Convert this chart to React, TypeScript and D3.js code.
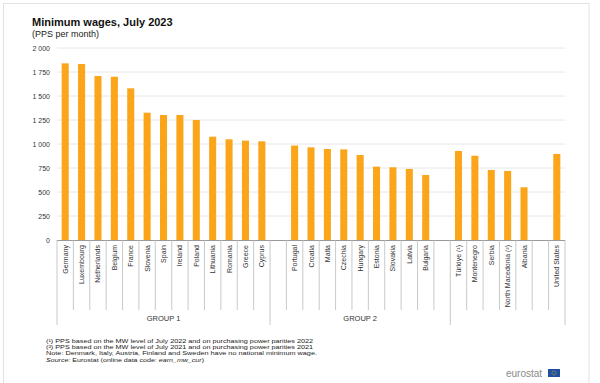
import React from "react";
import * as d3 from "d3";

const group1 = ["Germany", "Luxembourg", "Netherlands", "Belgium", "France", "Slovenia", "Spain", "Ireland", "Poland", "Lithuania", "Romania", "Greece", "Cyprus"];
const group1Values = [1840, 1833, 1708, 1701, 1580, 1326, 1302, 1302, 1250, 1076, 1049, 1035, 1028];
const group2 = ["Portugal", "Croatia", "Malta", "Czechia", "Hungary", "Estonia", "Slovakia", "Latvia", "Bulgaria"];
const group2Values = [984, 965, 948, 944, 885, 764, 757, 740, 677];
const group3 = ["Türkiye (¹)", "Montenegro", "Serbia", "North Macedonia (²)", "Albania"];
const group3Values = [927, 878, 729, 719, 549];
const group4 = ["United States"];
const group4Values = [896];
const yTicks = [0, 250, 500, 750, 1000, 1250, 1500, 1750, 2000];
const groupLabels = ["GROUP 1", "GROUP 2"];
const footnotes = [
  "(¹) PPS based on the MW level of July 2022 and on purchasing  power parities 2022",
  "(²) PPS based on the MW level of July 2021 and on purchasing  power parities 2021",
  "Note: Denmark, Italy, Austria, Finland and Sweden have no national minimum  wage.",
];
const footnoteWidths = [267, 267, 271];

type Slot = { key: string; name: string | null; value: number | null };

export default function App() {
  const W = 600, H = 383;
  const x0 = 57, x1 = 565, yTop = 48, yBot = 240;
  const slots: Slot[] = [];
  const push = (names: string[], vals: number[]) =>
    names.forEach((n, i) => slots.push({ key: n, name: n, value: vals[i] }));
  const gap = (k: string) => slots.push({ key: k, name: null, value: null });
  push(group1, group1Values);
  gap("g1");
  push(group2, group2Values);
  gap("g2");
  push(group3, group3Values);
  gap("g3");
  push(group4, group4Values);

  const x = d3.scaleBand<string>().domain(slots.map((s) => s.key)).range([x0, x1]);
  const y = d3.scaleLinear().domain([0, 2000]).range([yBot, yTop]);
  const bw = x.bandwidth();
  const barW = bw * 0.43;
  const fmt = (v: number) => d3.format(",")(v).replace(/,/g, " ");

  const bounds: { xv: number; long: boolean }[] = [];
  const longIdx = new Set<number>([0, group1.length, group1.length + 1 + group2.length + 1, slots.length]);
  for (let i = 0; i <= slots.length; i++) {
    const xv = i < slots.length ? (x(slots[i].key) as number) : x1;
    bounds.push({ xv, long: longIdx.has(i) });
  }
  const g1End = x(slots[group1.length].key) as number;
  const g2End = x(slots[group1.length + 1 + group2.length + 1].key) as number;
  const groupCenters = [(x0 + g1End) / 2, (g1End + g2End) / 2];

  return (
    <svg width={W} height={H} style={{ position: "absolute", left: 0, top: 0, fontFamily: "Liberation Sans, Arial, sans-serif" }}>
      <rect x={0} y={0} width={W} height={H} fill="#fff" />
      <rect x={3.5} y={3.5} width={585.5} height={H} fill="none" stroke="#e2e2e2" />
      <text x={32} y={26} fontSize={11} fontWeight="bold" fill="#111">Minimum wages, July 2023</text>
      <text x={32} y={37} fontSize={9} fill="#222">(PPS per month)</text>
      {yTicks.map((t) => (
        <g key={t}>
          {t > 0 && <line x1={x0} x2={x1} y1={y(t)} y2={y(t)} stroke="#e6e6e6" strokeWidth={1} />}
          <text x={50} y={y(t) + 2.5} fontSize={7} textAnchor="end" fill="#333">{fmt(t)}</text>
        </g>
      ))}
      {slots.filter((s) => s.value !== null).map((s) => (
        <rect key={s.key} x={(x(s.key) as number) + (bw - barW) / 2} y={y(s.value as number)} width={barW} height={yBot - y(s.value as number)} fill="#FAA51A" />
      ))}
      <line x1={x0} x2={x1} y1={yBot + 0.5} y2={yBot + 0.5} stroke="#999" />
      {bounds.map((b, i) => (
        <line key={i} x1={b.xv} x2={b.xv} y1={yBot} y2={b.long ? 325 : 310} stroke="#bbb" strokeWidth={0.8} />
      ))}
      {slots.filter((s) => s.name).map((s) => {
        const cx = (x(s.key) as number) + bw / 2 + 2.5;
        return (
          <text key={s.key} transform={`translate(${cx},245) rotate(-90)`} fontSize={7} textAnchor="end" fill="#333">{s.name}</text>
        );
      })}
      {groupLabels.map((g, i) => (
        <text key={g} x={groupCenters[i]} y={321} fontSize={7.5} textAnchor="middle" fill="#333">{g}</text>
      ))}
      {footnotes.map((f, i) => (
        <text key={i} x={46} y={342.5 + i * 6} fontSize={6.2} fill="#222" textLength={footnoteWidths[i]} lengthAdjust="spacingAndGlyphs">{f}</text>
      ))}
      <text x={46} y={361.5} fontSize={6.2} fill="#222" textLength={158} lengthAdjust="spacingAndGlyphs">
        <tspan fontStyle="italic">Source:</tspan> Eurostat (online data code: <tspan fontStyle="italic">earn_mw_cur</tspan>)
      </text>
      <text x={506} y={377} fontSize={10} fill="#8a8a8a">eurostat</text>
      <rect x={548} y={369} width={12} height={8} fill="#1f4fa0" />
      <circle cx={554} cy={373} r={2} fill="none" stroke="#f5d400" strokeWidth={0.8} strokeDasharray="0.8 0.8" />
    </svg>
  );
}
